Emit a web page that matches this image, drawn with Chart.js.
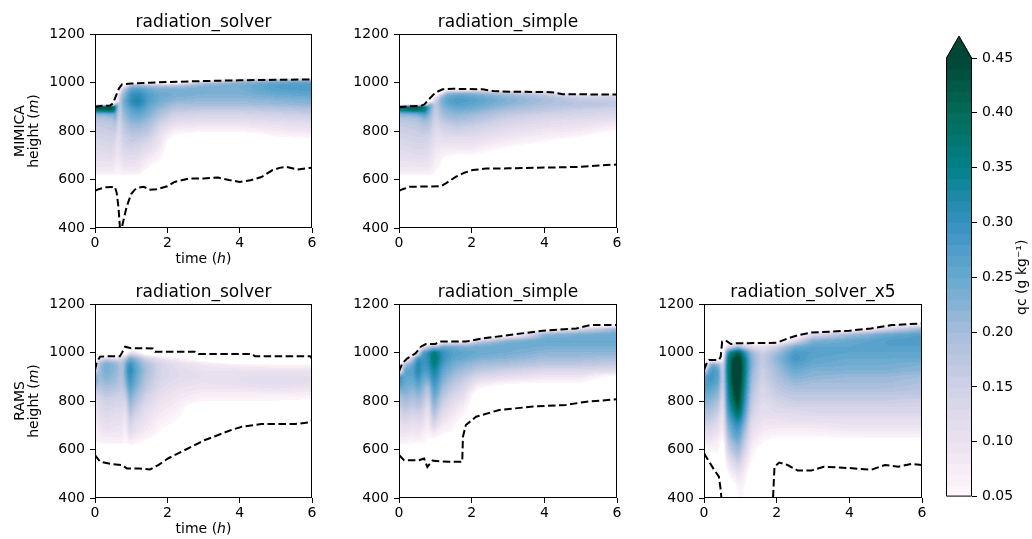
<!DOCTYPE html>
<html><head><meta charset="utf-8">
<script src="https://cdn.jsdelivr.net/npm/chart.js@4.4.1/dist/chart.umd.min.js"></script>
<style>
html,body{margin:0;padding:0;background:#fff;}
#wrap{position:relative;width:1032px;height:539px;overflow:hidden;background:#fff;}
canvas{position:absolute;}
</style></head><body><div id="wrap"></div>
<script>
// ---------------- tick labels / levels ----------------
const timeTicks = [0, 2, 4, 6];
const heightTicks = [400, 600, 800, 1000, 1200];
const colorbarTicks = [0.05, 0.10, 0.15, 0.20, 0.25, 0.30, 0.35, 0.40, 0.45];
const qcLevelMin = 0.05, qcLevelMax = 0.45, qcLevelStep = 0.01;

// ---------------- MIMICA radiation_solver ----------------
const mimicaSolverTimes = [0, 0.5, 0.58, 0.66, 0.75, 1, 1.2, 1.5, 1.8, 2.2, 3, 4, 5, 6];
const mimicaSolverHeights = [1020,1010,1000,990,975,950,925,910,900,885,870,850,825,800,775,750,725,700,675,650,625,600];
const mimicaSolverQc = [
 [0,0,0,0,0,0,0,0,.45,.38,.22,.18,.16,.15,.14,.13,.12,.11,.10,.09,.07,0],
 [0,0,0,0,0,0,0,0,.46,.40,.24,.19,.17,.16,.15,.14,.13,.12,.10,.09,.07,0],
 [0,0,0,0,0,0,0,.30,.32,.30,.27,.24,.20,.17,.14,.12,.10,.09,.08,.07,.06,0],
 [0,0,0,0,0,.12,.14,.14,.14,.13,.12,.12,.11,.11,.10,.10,.09,.09,.08,.07,.06,0],
 [0,0,0,0,.15,.20,.22,.22,.22,.21,.20,.19,.17,.16,.15,.14,.13,.12,.10,.09,.07,0],
 [0,0,0,.20,.26,.30,.31,.30,.28,.26,.25,.23,.21,.19,.17,.16,.14,.12,.11,.09,.07,0],
 [0,0,0,.20,.27,.31,.33,.32,.30,.28,.26,.24,.21,.19,.17,.15,.13,.12,.10,.09,.07,0],
 [0,0,0,.18,.24,.27,.27,.26,.25,.24,.23,.21,.19,.17,.15,.13,.11,.09,.07,.05,0,0],
 [0,0,0,.17,.23,.25,.24,.23,.22,.20,.19,.17,.14,.12,.10,.09,.08,.06,.05,0,0,0],
 [0,0,0,.17,.23,.24,.22,.20,.19,.17,.15,.13,.10,.07,.04,0,0,0,0,0,0,0],
 [0,0,.18,.22,.24,.23,.21,.20,.18,.16,.14,.12,.09,.06,0,0,0,0,0,0,0,0],
 [0,.15,.22,.24,.24,.23,.21,.20,.18,.16,.14,.12,.09,.06,0,0,0,0,0,0,0,0],
 [0,.20,.25,.27,.27,.25,.22,.21,.19,.17,.15,.13,.10,.08,.05,0,0,0,0,0,0,0],
 [0,.20,.26,.28,.28,.26,.23,.22,.20,.18,.16,.14,.11,.09,.06,0,0,0,0,0,0,0]
];
const mimicaSolverTopT = [0,0.2,0.42,0.5,0.58,0.66,0.75,1,1.5,2,3,4,5,6];
const mimicaSolverTopH = [900,904,905,915,945,975,993,996,999,1002,1006,1009,1011,1013];
const mimicaSolverBaseT = [0,0.1,0.3,0.55,0.6,0.65,0.69,0.74,0.8,0.88,1.0,1.1,1.2,1.35,1.5,1.7,2.0,2.2,2.6,3.0,3.4,3.7,4.0,4.3,4.6,4.9,5.1,5.3,5.6,6.0];
const mimicaSolverBaseH = [553,560,568,570,545,484,400,400,440,490,540,558,567,570,558,560,572,590,604,604,608,598,590,597,610,638,648,652,641,649];

// ---------------- MIMICA radiation_simple ----------------
const mimicaSimpleTimes = [0, 0.5, 0.7, 0.85, 1.0, 1.15, 1.3, 1.6, 2, 3, 4, 5, 6];
const mimicaSimpleHeights = [1000,975,960,950,940,925,910,900,885,870,850,825,800,775,750,725,700,675,650,625,600];
const mimicaSimpleQc = [
 [0,0,0,0,0,0,0,.42,.35,.22,.18,.16,.15,.14,.13,.12,.11,.10,.09,.07,0],
 [0,0,0,0,0,0,0,.44,.38,.24,.19,.17,.16,.15,.14,.13,.12,.10,.09,.07,0],
 [0,0,0,0,0,0,0,.40,.36,.28,.22,.19,.17,.15,.14,.13,.12,.10,.09,.07,0],
 [0,0,0,0,0,0,.25,.26,.24,.22,.20,.18,.16,.14,.13,.12,.11,.10,.09,.07,0],
 [0,0,0,0,.10,.15,.16,.16,.15,.15,.14,.13,.12,.11,.10,.09,.08,.07,.06,.05,0],
 [0,0,0,.15,.20,.22,.22,.21,.20,.19,.17,.15,.13,.11,.10,.08,.07,.06,.05,0,0],
 [0,0,.18,.23,.25,.26,.25,.24,.22,.21,.19,.16,.14,.12,.10,.08,.06,0,0,0,0],
 [0,0,.20,.25,.27,.28,.27,.26,.24,.22,.20,.17,.15,.12,.10,.08,.05,0,0,0,0],
 [0,0,.20,.24,.26,.27,.26,.25,.23,.21,.19,.16,.14,.12,.10,.08,.05,0,0,0,0],
 [0,0,.15,.20,.22,.23,.22,.21,.19,.17,.15,.13,.11,.09,.07,.04,0,0,0,0,0],
 [0,0,.12,.17,.19,.20,.19,.18,.17,.15,.13,.11,.09,.07,.045,0,0,0,0,0,0],
 [0,0,0,.10,.15,.17,.18,.17,.15,.14,.12,.10,.08,.05,0,0,0,0,0,0,0],
 [0,0,0,.10,.14,.16,.17,.16,.14,.13,.11,.08,.05,0,0,0,0,0,0,0,0]
];
const mimicaSimpleTopT = [0,0.3,0.6,0.7,0.85,1.0,1.2,1.5,2.3,2.6,3,4,4.3,4.5,6];
const mimicaSimpleTopH = [898,902,903,910,935,958,972,974,972,965,962,961,958,952,950];
const mimicaSimpleBaseT = [0,0.1,0.3,1.15,1.3,1.57,1.8,2.03,2.4,3,4,5,5.5,6];
const mimicaSimpleBaseH = [553,560,570,572,585,612,628,639,645,646,649,652,658,662];

// ---------------- RAMS radiation_solver ----------------
const ramsSolverTimes = [0, 0.1, 0.3, 0.55, 0.75, 0.85, 0.95, 1.1, 1.4, 1.8, 2.3, 3, 4, 5, 6];
const ramsSolverHeights = [1025,1000,985,975,960,950,925,900,875,850,825,800,775,750,725,700,675,650,625,600];
const ramsSolverQc = [
 [0,0,0,0,0,0,.12,.25,.25,.18,.13,.10,.09,.08,.07,.07,.06,.06,.04,0],
 [0,0,0,.10,.17,.19,.20,.20,.19,.17,.15,.13,.12,.11,.10,.09,.08,.07,.05,0],
 [0,0,0,.15,.22,.24,.24,.23,.21,.19,.17,.15,.14,.13,.12,.11,.10,.08,.06,0],
 [0,0,0,.12,.20,.22,.22,.21,.20,.18,.16,.14,.13,.12,.11,.10,.09,.08,.06,0],
 [0,0,.08,.14,.17,.18,.18,.18,.17,.16,.15,.14,.13,.12,.11,.10,.09,.08,.06,0],
 [0,0,.12,.18,.22,.24,.25,.24,.22,.19,.16,.13,.11,.09,.08,.07,.06,.05,.04,0],
 [0,.10,.20,.25,.29,.31,.33,.31,.29,.27,.25,.23,.21,.19,.17,.15,.13,.10,.07,0],
 [0,.10,.18,.22,.25,.26,.27,.26,.25,.23,.21,.19,.17,.15,.13,.11,.10,.08,.06,0],
 [0,0,.10,.15,.18,.19,.20,.19,.18,.17,.15,.14,.12,.11,.10,.09,.08,.06,.04,0],
 [0,0,.06,.10,.13,.14,.14,.14,.13,.12,.11,.10,.09,.08,.07,.06,.05,.04,0,0],
 [0,0,0,.07,.10,.11,.12,.12,.11,.10,.09,.08,.07,.06,.05,.04,0,0,0,0],
 [0,0,0,0,.07,.09,.10,.11,.10,.09,.07,.05,0,0,0,0,0,0,0,0],
 [0,0,0,0,0,.07,.10,.11,.11,.09,.07,.05,0,0,0,0,0,0,0,0],
 [0,0,0,0,0,.06,.10,.12,.12,.10,.07,.05,0,0,0,0,0,0,0,0],
 [0,0,0,0,0,.06,.10,.11,.11,.09,.07,.04,0,0,0,0,0,0,0,0]
];
const ramsSolverTopT = [0,0.05,0.14,0.3,0.69,0.75,0.83,1.0,1.6,1.66,2.76,2.86,4.33,4.42,5.95,6];
const ramsSolverTopH = [928,960,983,984,985,1000,1024,1018,1017,1003,1003,994,994,985,985,975];
const ramsSolverBaseT = [0,0.14,0.46,0.74,0.88,1.2,1.52,1.75,2.03,2.3,2.67,3.04,3.41,3.78,4.06,4.6,5.53,5.95,6];
const ramsSolverBaseH = [577,550,540,536,522,522,518,536,564,584,612,639,660,681,694,705,705,712,719];

// ---------------- RAMS radiation_simple ----------------
const ramsSimpleTimes = [0, 0.15, 0.4, 0.52, 0.65, 0.8, 0.95, 1.05, 1.2, 1.5, 1.8, 2.2, 3, 4, 5, 6];
const ramsSimpleHeights = [1125,1110,1100,1075,1050,1040,1025,1000,975,950,925,900,875,850,825,800,775,750,725,700,675,650,625,600];
const ramsSimpleQc = [
 [0,0,0,0,0,0,0,0,0,0,0,.30,.30,.25,.20,.17,.15,.13,.12,.10,.09,.08,.06,0],
 [0,0,0,0,0,0,0,0,0,.20,.26,.26,.25,.24,.22,.20,.18,.16,.14,.12,.10,.08,.06,0],
 [0,0,0,0,0,0,0,0,.20,.26,.27,.26,.24,.22,.20,.18,.16,.14,.12,.10,.09,.07,.05,0],
 [0,0,0,0,0,0,0,.10,.30,.33,.33,.31,.28,.25,.22,.20,.18,.15,.13,.11,.10,.08,.05,0],
 [0,0,0,0,0,0,.10,.27,.29,.29,.28,.26,.24,.22,.20,.18,.16,.14,.12,.10,.08,.07,.05,0],
 [0,0,0,0,0,0,.16,.30,.31,.30,.28,.25,.21,.17,.15,.13,.11,.09,.08,.07,.06,.05,.04,0],
 [0,0,0,0,0,0,.20,.37,.38,.36,.34,.32,.30,.28,.26,.24,.22,.20,.17,.14,.10,.06,0,0],
 [0,0,0,0,0,0,.20,.35,.36,.34,.32,.30,.28,.26,.24,.21,.19,.16,.14,.11,.08,.05,0,0],
 [0,0,0,0,0,.10,.25,.30,.30,.28,.26,.24,.22,.20,.18,.16,.14,.12,.10,.08,.06,.04,0,0],
 [0,0,0,0,0,.12,.24,.27,.26,.24,.22,.20,.18,.16,.14,.12,.10,.09,.07,.06,.05,0,0,0],
 [0,0,0,0,0,.12,.23,.26,.25,.22,.20,.17,.15,.13,.11,.09,.07,.055,.04,0,0,0,0,0],
 [0,0,0,0,.12,.20,.24,.25,.23,.20,.17,.13,.09,.05,0,0,0,0,0,0,0,0,0,0],
 [0,0,0,0,.22,.24,.25,.24,.22,.19,.15,.11,.06,0,0,0,0,0,0,0,0,0,0,0],
 [0,0,0,.22,.25,.25,.24,.22,.20,.17,.13,.09,.05,0,0,0,0,0,0,0,0,0,0,0],
 [0,0,.12,.24,.25,.25,.24,.22,.20,.17,.13,.09,.05,0,0,0,0,0,0,0,0,0,0,0],
 [0,.05,.20,.25,.25,.25,.24,.22,.19,.16,.12,.03,0,0,0,0,0,0,0,0,0,0,0,0]
];
const ramsSimpleTopT = [0,0.09,0.23,0.46,0.6,0.74,1.0,1.1,1.84,2.3,3.04,3.96,4.88,5.25,6];
const ramsSimpleTopH = [921,955,976,997,1024,1035,1035,1045,1045,1058,1072,1090,1099,1113,1113];
const ramsSimpleBaseT = [0,0.14,0.55,0.69,0.78,0.92,1.38,1.74,1.76,1.84,2.12,2.76,3.69,4.6,5.16,6];
const ramsSimpleBaseH = [577,556,556,563,528,554,549,549,653,701,735,763,777,784,797,807];

// ---------------- RAMS radiation_solver_x5 ----------------
const ramsSolverX5Times = [0, 0.2, 0.42, 0.52, 0.62, 0.8, 0.95, 1.1, 1.3, 1.6, 2.0, 2.5, 3, 4, 5, 6];
const ramsSolverX5Heights = [1125,1100,1075,1050,1025,1000,975,950,925,900,875,850,825,800,775,750,725,700,675,650,625,600,550,500,450,400];
const ramsSolverX5Qc = [
 [0,0,0,0,0,0,0,0,.15,.27,.28,.27,.25,.23,.21,.19,.17,.15,.12,.10,.07,.04,0,0,0,0],
 [0,0,0,0,0,0,0,.25,.29,.29,.28,.26,.24,.22,.20,.18,.16,.14,.12,.10,.08,.06,0,0,0,0],
 [0,0,0,0,0,0,0,.22,.26,.26,.25,.23,.21,.19,.17,.15,.13,.11,.10,.08,.07,.06,.03,0,0,0],
 [0,0,0,0,0,0,.05,.10,.12,.12,.12,.11,.10,.09,.08,.07,.06,.06,.05,.04,0,0,0,0,0,0],
 [0,0,0,0,.10,.28,.32,.33,.33,.32,.31,.30,.29,.28,.27,.25,.23,.21,.19,.17,.15,.13,.08,.04,0,0],
 [0,0,0,0,.15,.38,.44,.46,.46,.46,.45,.44,.42,.40,.37,.34,.31,.28,.26,.24,.21,.19,.13,.08,.03,0],
 [0,0,0,0,.20,.42,.48,.50,.50,.50,.49,.48,.47,.46,.44,.40,.35,.31,.28,.26,.23,.21,.16,.10,.07,.05],
 [0,0,0,0,.15,.32,.37,.38,.38,.37,.36,.35,.33,.32,.30,.28,.26,.23,.21,.19,.17,.15,.11,.08,.06,.05],
 [0,0,0,0,.12,.21,.23,.23,.22,.21,.20,.19,.18,.17,.16,.15,.13,.12,.11,.10,.08,.07,.05,.02,0,0],
 [0,0,0,0,.10,.15,.16,.16,.15,.15,.14,.13,.13,.12,.11,.11,.10,.09,.08,.06,.05,.03,0,0,0,0],
 [0,0,0,0,.15,.20,.22,.21,.20,.19,.18,.17,.16,.14,.13,.12,.10,.09,.07,.05,.03,0,0,0,0,0],
 [0,0,0,.12,.24,.28,.29,.27,.25,.23,.21,.19,.17,.16,.14,.12,.11,.09,.07,.05,0,0,0,0,0,0],
 [0,0,.12,.23,.26,.27,.26,.25,.23,.22,.20,.19,.17,.16,.14,.13,.11,.09,.07,.05,0,0,0,0,0,0],
 [0,0,.20,.25,.26,.26,.25,.24,.23,.21,.20,.19,.17,.16,.14,.13,.11,.10,.08,.055,0,0,0,0,0,0],
 [0,.12,.25,.27,.27,.26,.25,.24,.23,.21,.20,.19,.17,.16,.14,.13,.11,.10,.08,.06,0,0,0,0,0,0],
 [0,.20,.27,.28,.27,.26,.25,.23,.22,.20,.19,.18,.17,.15,.14,.13,.11,.10,.08,.06,0,0,0,0,0,0]
];
const ramsSolverX5TopT = [0,0.09,0.14,0.41,0.46,0.5,0.6,0.74,0.83,2.0,2.3,2.6,2.95,4.0,4.6,5.16,6];
const ramsSolverX5TopH = [928,962,969,969,983,1045,1049,1035,1038,1040,1058,1072,1082,1090,1099,1113,1120];
const ramsSolverX5BaseT = [0,0.14,0.28,0.41,0.46,0.49,1.88,1.9,1.94,2.07,2.3,2.58,2.95,3.3,3.7,4.15,4.6,4.98,5.35,5.7,6];
const ramsSolverX5BaseH = [584,550,516,488,433,380,380,400,529,546,536,513,513,529,526,522,516,536,529,540,536];

// ---------------- colormap (PuBuGn) ----------------
const puBuGn = [[255,247,251],[236,226,240],[208,209,230],[166,189,219],[103,169,207],[54,144,192],[2,129,138],[1,108,89],[1,70,54]];

Chart.defaults.font.family = '"DejaVu Sans", sans-serif';
Chart.defaults.font.size = 14;
Chart.defaults.color = '#000';

function cmap(f){
  f = Math.max(0, Math.min(1, f));
  const s = f * (puBuGn.length - 1);
  const i = Math.min(puBuGn.length - 2, Math.floor(s));
  const r = s - i;
  const a = puBuGn[i], b = puBuGn[i+1];
  return [Math.round(a[0]+(b[0]-a[0])*r), Math.round(a[1]+(b[1]-a[1])*r), Math.round(a[2]+(b[2]-a[2])*r)];
}
function levelColor(v){
  if (v >= qcLevelMax) return cmap(1);
  const band = Math.floor((v - qcLevelMin) / qcLevelStep + 1e-9);
  const mid = qcLevelMin + (band + 0.5) * qcLevelStep;
  return cmap((mid - qcLevelMin) / (qcLevelMax - qcLevelMin));
}
function seg(arr, v){
  for (let i = 0; i < arr.length - 1; i++){
    const a = arr[i], b = arr[i+1];
    if ((v - a) * (v - b) <= 0) return [i, b === a ? 0 : (v - a) / (b - a)];
  }
  return null;
}
function sampleGrid(p, t, h){
  const st = seg(p.times, t), sh = seg(p.heights, h);
  if (!st || !sh) return 0;
  const [i, ft] = st, [j, fh] = sh;
  const g = p.qc;
  const a = (1-fh)*g[i][j] + fh*g[i][j+1];
  const b = (1-fh)*g[i+1][j] + fh*g[i+1][j+1];
  return (1-ft)*a + ft*b;
}
// box smoothing of the sampled field (rendering only)
function smooth(field, w, h, rx, ry){
  const tmp = new Float32Array(w*h), out = new Float32Array(w*h);
  for (let y = 0; y < h; y++){
    for (let x = 0; x < w; x++){
      let s = 0, n = 0;
      for (let k = -rx; k <= rx; k++){ const xx = Math.min(w-1, Math.max(0, x+k)); s += field[y*w+xx]; n++; }
      tmp[y*w+x] = s / n;
    }
  }
  for (let y = 0; y < h; y++){
    for (let x = 0; x < w; x++){
      let s = 0, n = 0;
      for (let k = -ry; k <= ry; k++){ const yy = Math.min(h-1, Math.max(0, y+k)); s += tmp[yy*w+x]; n++; }
      out[y*w+x] = s / n;
    }
  }
  return out;
}

function drawRich(ctx, segs, cx, cy, rot, size){
  ctx.save();
  ctx.translate(cx, cy);
  ctx.rotate(rot);
  ctx.fillStyle = '#000';
  ctx.textBaseline = 'alphabetic';
  ctx.textAlign = 'left';
  let total = 0;
  const ws = segs.map(s => { ctx.font = (s.i ? 'italic ' : '') + size + 'px "DejaVu Sans"'; const w = ctx.measureText(s.t).width; total += w; return w; });
  let x = -total / 2;
  segs.forEach((s, k) => { ctx.font = (s.i ? 'italic ' : '') + size + 'px "DejaVu Sans"'; ctx.fillText(s.t, x, 0); x += ws[k]; });
  ctx.restore();
}

const wrap = document.getElementById('wrap');

const panels = [
 {box:[95,34,312,228], title:'radiation_solver', times:mimicaSolverTimes, heights:mimicaSolverHeights, qc:mimicaSolverQc,
  topT:mimicaSolverTopT, topH:mimicaSolverTopH, baseT:mimicaSolverBaseT, baseH:mimicaSolverBaseH, ylabel:'MIMICA', xlabel:true},
 {box:[399,34,617,228], title:'radiation_simple', times:mimicaSimpleTimes, heights:mimicaSimpleHeights, qc:mimicaSimpleQc,
  topT:mimicaSimpleTopT, topH:mimicaSimpleTopH, baseT:mimicaSimpleBaseT, baseH:mimicaSimpleBaseH},
 {box:[95,304,312,498], title:'radiation_solver', times:ramsSolverTimes, heights:ramsSolverHeights, qc:ramsSolverQc,
  topT:ramsSolverTopT, topH:ramsSolverTopH, baseT:ramsSolverBaseT, baseH:ramsSolverBaseH, ylabel:'RAMS', xlabel:true},
 {box:[399,304,617,498], title:'radiation_simple', times:ramsSimpleTimes, heights:ramsSimpleHeights, qc:ramsSimpleQc,
  topT:ramsSimpleTopT, topH:ramsSimpleTopH, baseT:ramsSimpleBaseT, baseH:ramsSimpleBaseH},
 {box:[704,304,922,498], title:'radiation_solver_x5', times:ramsSolverX5Times, heights:ramsSolverX5Heights, qc:ramsSolverX5Qc,
  topT:ramsSolverX5TopT, topH:ramsSolverX5TopH, baseT:ramsSolverX5BaseT, baseH:ramsSolverX5BaseH}
];

function lineDataset(ts, hs){
  return {data: ts.map((t, i) => ({x: t, y: hs[i]})), showLine: true, borderColor: '#000', backgroundColor: '#000',
          borderWidth: 2, borderDash: [7.5, 3.5], pointRadius: 0, pointHoverRadius: 0, fill: false, tension: 0, clip: 0};
}

function makePanel(p, idx){
  const [L, T, R, B] = p.box;
  const padL = 95, padT = 34, padR = 15, padB = 45;
  const w = (R - L) + padL + padR, h = (B - T) + padT + padB;
  const cv = document.createElement('canvas');
  cv.width = w; cv.height = h;
  cv.style.left = (L - padL) + 'px'; cv.style.top = (T - padT) + 'px';
  cv.style.width = w + 'px'; cv.style.height = h + 'px';
  wrap.appendChild(cv);
  const heat = {
    id: 'heat' + idx,
    beforeDatasetsDraw(chart){
      const a = chart.chartArea, xs = chart.scales.x, ys = chart.scales.y;
      const x0 = Math.round(a.left), y0 = Math.round(a.top);
      const ww = Math.round(a.right) - x0, hh = Math.round(a.bottom) - y0;
      const field = new Float32Array(ww * hh);
      for (let py = 0; py < hh; py++){
        const hv = ys.getValueForPixel(y0 + py + 0.5);
        for (let px = 0; px < ww; px++){
          const tv = xs.getValueForPixel(x0 + px + 0.5);
          field[py * ww + px] = sampleGrid(p, tv, hv);
        }
      }
      const sm = smooth(field, ww, hh, 2, 1);
      const off = document.createElement('canvas'); off.width = ww; off.height = hh;
      const octx = off.getContext('2d');
      const img = octx.createImageData(ww, hh);
      for (let k0 = 0; k0 < ww * hh; k0++){
        const v = sm[k0];
        if (v < qcLevelMin) continue;
        const c = levelColor(v);
        const k = k0 * 4;
        img.data[k] = c[0]; img.data[k+1] = c[1]; img.data[k+2] = c[2]; img.data[k+3] = 255;
      }
      octx.putImageData(img, 0, 0);
      chart.ctx.drawImage(off, x0, y0);
    }
  };
  const frame = {
    id: 'frame' + idx,
    afterDraw(chart){
      const a = chart.chartArea, ctx = chart.ctx;
      ctx.save();
      ctx.strokeStyle = '#000'; ctx.lineWidth = 1;
      ctx.strokeRect(Math.round(a.left) + 0.5, Math.round(a.top) + 0.5, Math.round(a.right) - Math.round(a.left) - 1, Math.round(a.bottom) - Math.round(a.top) - 1);
      ctx.fillStyle = '#000';
      ctx.font = '17px "DejaVu Sans"';
      ctx.textAlign = 'center'; ctx.textBaseline = 'alphabetic';
      ctx.fillText(p.title, (a.left + a.right) / 2, a.top - 7.5);
      ctx.restore();
      if (p.xlabel){
        drawRich(ctx, [{t:'time ('},{t:'h', i:true},{t:')'}], (a.left + a.right) / 2, a.bottom + 35, 0, 14);
      }
      if (p.ylabel){
        const cy = (a.top + a.bottom) / 2;
        drawRich(ctx, [{t:p.ylabel}], 24, cy, -Math.PI/2, 14);
        drawRich(ctx, [{t:'height ('},{t:'m', i:true},{t:')'}], 38, cy, -Math.PI/2, 14);
      }
    }
  };
  new Chart(cv, {
    type: 'scatter',
    data: {datasets: [lineDataset(p.topT, p.topH), lineDataset(p.baseT, p.baseH)]},
    options: {
      responsive: false, animation: false, devicePixelRatio: 1,
      events: [],
      layout: {padding: {left: 0, top: padT, right: padR, bottom: 0}},
      plugins: {legend: {display: false}, tooltip: {enabled: false}, title: {display: false}},
      scales: {
        x: {type: 'linear', min: 0, max: 6,
            afterBuildTicks: s => { s.ticks = timeTicks.map(v => ({value: v})); },
            afterFit: s => { s.height = padB; },
            ticks: {autoSkip: false, maxRotation: 0, padding: 2, font: {size: 14}, color: '#000', callback: v => String(v)},
            grid: {drawOnChartArea: false, drawTicks: true, tickLength: 5, color: '#000', lineWidth: 1},
            border: {display: false}},
        y: {type: 'linear', min: 400, max: 1200,
            afterBuildTicks: s => { s.ticks = heightTicks.map(v => ({value: v})); },
            afterFit: s => { s.width = padL; },
            ticks: {autoSkip: false, padding: 5, font: {size: 14}, color: '#000', callback: v => String(v)},
            grid: {drawOnChartArea: false, drawTicks: true, tickLength: 5, color: '#000', lineWidth: 1},
            border: {display: false}}
      }
    },
    plugins: [heat, frame]
  });
}
panels.forEach(makePanel);

// ---------------- colorbar ----------------
(function(){
  const cv = document.createElement('canvas');
  const w = 96, h = 490;
  cv.width = w; cv.height = h;
  cv.style.left = '936px'; cv.style.top = '20px';
  cv.style.width = w + 'px'; cv.style.height = h + 'px';
  wrap.appendChild(cv);
  const bar = {
    id: 'cbar',
    beforeDatasetsDraw(chart){
      const a = chart.chartArea, ys = chart.scales.y, ctx = chart.ctx;
      const nBands = Math.round((qcLevelMax - qcLevelMin) / qcLevelStep);
      for (let b = 0; b < nBands; b++){
        const lo = qcLevelMin + b * qcLevelStep, hi = lo + qcLevelStep;
        const c = levelColor(lo + qcLevelStep / 2);
        const y1 = ys.getPixelForValue(lo), y2 = ys.getPixelForValue(hi);
        ctx.fillStyle = 'rgb(' + c.join(',') + ')';
        ctx.fillRect(a.left, y2 - 0.5, a.right - a.left, y1 - y2 + 1);
      }
      const tri = (a.bottom - a.top) * 0.05;
      const over = cmap(1);
      ctx.beginPath();
      ctx.moveTo(a.left, a.top); ctx.lineTo((a.left + a.right) / 2, a.top - tri); ctx.lineTo(a.right, a.top); ctx.closePath();
      ctx.fillStyle = 'rgb(' + over.join(',') + ')';
      ctx.fill();
      ctx.beginPath();
      ctx.moveTo(a.left + 0.5, a.bottom - 0.5);
      ctx.lineTo(a.left + 0.5, a.top);
      ctx.lineTo((a.left + a.right) / 2, a.top - tri);
      ctx.lineTo(a.right - 0.5, a.top);
      ctx.lineTo(a.right - 0.5, a.bottom - 0.5);
      ctx.closePath();
      ctx.strokeStyle = '#000'; ctx.lineWidth = 1; ctx.stroke();
    },
    afterDraw(chart){
      const a = chart.chartArea;
      drawRich(chart.ctx, [{t:'qc (g kg⁻¹)'}], 90, (a.top + a.bottom) / 2, -Math.PI/2, 14);
    }
  };
  new Chart(cv, {
    type: 'scatter',
    data: {datasets: []},
    options: {
      responsive: false, animation: false, devicePixelRatio: 1, events: [],
      layout: {padding: {left: 10, top: 38, right: 0, bottom: 13}},
      plugins: {legend: {display: false}, tooltip: {enabled: false}},
      scales: {
        x: {display: false, min: 0, max: 1},
        y: {type: 'linear', position: 'right', min: qcLevelMin, max: qcLevelMax,
            afterBuildTicks: s => { s.ticks = colorbarTicks.map(v => ({value: v})); },
            afterFit: s => { s.width = 60; },
            ticks: {autoSkip: false, padding: 5, font: {size: 14}, color: '#000', callback: v => v.toFixed(2)},
            grid: {drawOnChartArea: false, drawTicks: true, tickLength: 5, color: '#000', lineWidth: 1},
            border: {display: false}}
      }
    },
    plugins: [bar]
  });
})();
</script>
</body></html>
